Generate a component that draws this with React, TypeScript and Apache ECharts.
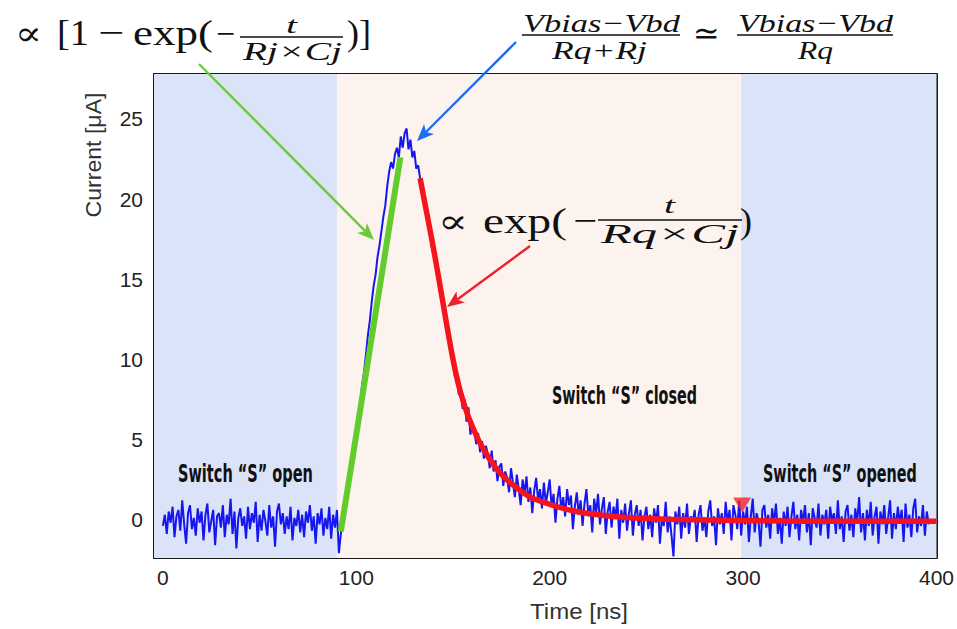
import React, { useEffect, useRef } from "react";
import * as echarts from "echarts";

// ---------- data ----------
const traceStartNs = 0;
const traceStepNs = 1;
// t = 0..91 ns, switch open
const baselineOpen = [
  -0.4, 0.3, -0.9, 0.5, -0.2, 0.8, -1.1, 0.2, 0.6, -0.7,
  1.2, -0.3, -1.5, 0.4, 0.9, -0.6, 0.1, -1.0, 0.7, -0.2,
  0.5, -1.3, 0.3, 1.0, -0.8, -0.1, 0.6, -1.6, 0.2, 0.4,
  -0.5, 0.9, -1.1, 0.3, -0.3, 1.3, -0.9, 0.5, -1.8, 0.1,
  0.7, -0.4, 0.2, -1.2, 0.8, -0.6, 0.4, -0.2, 1.1, -1.4,
  0.3, -0.7, 0.6, -0.1, -1.0, 0.9, -0.5, 0.2, -1.7, 0.5,
  1.0, -0.3, 0.4, -0.9, 0.2, -0.6, 0.8, -1.3, 0.1, -0.4,
  0.6, -0.8, 0.3, -1.1, 0.5, -0.2, 0.9, -0.7, 0.2, -1.5,
  0.4, -0.3, 0.7, -1.0, 0.1, -0.6, 0.8, -1.2, 0.3, -0.5,
  0.6, -2.1,
];
// t = 92..133 ns, rising edge and peak
const riseEdge = [
  -0.9, 0.1, 0.9, 1.6, 2.5, 3.1, 4.1, 4.7, 5.6, 6.2,
  7.3, 8.4, 9.2, 10.3, 11.5, 12.4, 13.6, 14.6, 15.3, 16.4,
  17.1, 18.0, 18.9, 19.6, 20.8, 21.7, 22.3, 21.9, 22.8, 23.2,
  22.6, 23.9, 23.2, 24.1, 24.4, 23.1, 23.7, 22.6, 23.0, 21.9,
  22.1, 21.3,
];
// t = 134..250 ns, recovery while switch closed
const decayClosed = [
  21.0, 20.2, 19.6, 19.1, 18.2, 17.0, 16.9, 15.8, 15.6, 14.2,
  14.3, 13.0, 12.9, 11.5, 11.6, 10.2, 10.1, 8.9, 9.0, 7.8,
  8.1, 6.9, 7.5, 6.1, 7.0, 5.3, 6.0, 5.6, 4.7, 5.4,
  4.2, 4.9, 3.8, 4.6, 4.1, 3.2, 4.3, 3.0, 3.7, 2.4,
  3.3, 3.5, 2.1, 3.0, 2.6, 1.7, 3.2,
  2.3, 1.4, 2.8, 1.9, 0.9, 2.5, 1.6, 2.7, 1.1, 2.0,
  0.4, 1.8, 2.6, 1.2, 1.9, 0.7, 2.3, 1.0, 1.7, 2.5,
  0.8, 1.6, -0.2, 1.3, 2.1, 0.6, 1.4, 0.2, 1.9, 0.9,
  1.5, -0.6, 0.8, 1.7, 0.3, 1.2, -0.4, 1.0, 1.9, 0.2,
  0.9, -0.8, 1.3, 0.4, 1.6, -0.3, 0.7, 1.4, -0.9, 0.5,
  1.1, -0.5, 0.8, 0.1, 1.3, -1.2, 0.6, -0.2, 1.0, -0.7,
  0.4, 1.2, -1.0, 0.3, 0.9, -0.4, 0.6, -1.3, 0.2, 0.8,
];
// t = 251..396 ns
const tailOpened = [
  -0.6, 0.3, -1.1, 0.7, -0.2, 0.9, -1.5, 0.1, -0.4, 1.1,
  -0.8, 0.2, -1.0, -2.3, 0.5, -0.3, 0.8, -1.2, 0.4, -0.5,
  1.0, -0.9, 0.2, -0.1, 0.6, -1.4, 0.3, 0.9, -0.7, 0.1,
  -1.1, 0.5, 1.2, -0.4, 0.2, -1.6, 0.7, -0.3, 0.4, -0.9,
  1.1, -0.2, 0.6, -1.3, 0.9, 0.3, -0.6, 1.2, -1.0, 0.5,
  -0.3, 0.8, -1.4, 0.2, 1.3, -0.8, 0.4, -0.1, -1.7, 0.6,
  0.9, -0.5, 0.3, -1.2, 0.7, -0.2, 1.0, -0.9, 0.1, -1.5,
  0.5, -0.4, 0.8, -1.1, 0.2, 1.1, -0.6, 0.3, -1.3, 0.6,
  -0.2, 0.9, -0.8, 0.4, -1.6, 0.7, 0.1, -0.5, 1.0, -1.0,
  0.3, -0.3, 0.6, -1.2, 0.8, -0.1, 0.4, -0.9, 1.2, -0.6,
  0.2, -1.4, 0.5, 0.9, -0.7, 0.3, -1.1, 0.7, -0.2, 1.4,
  -0.8, 0.4, -1.3, 0.6, -0.4, 1.1, -1.0, 0.2, 0.8, -1.5,
  0.5, -0.3, 0.9, -0.9, 0.1, 1.2, -1.2, 0.4, -0.6, 0.8,
  -0.2, 0.6, -1.4, 1.0, -0.5, 0.3, -1.1, 0.7, 1.3, -0.8,
  0.2, -0.4, 0.9, -1.0, 0.5, -0.3,
];

// rising-edge linear fit (green)
const riseFitT = [92, 122.8];
const riseFitI = [-0.75, 22.6];
// exponential recovery fit (red)
const decayFitT = [133, 136, 139, 142, 145, 148, 151, 154, 158, 163, 168, 173, 180, 190, 200, 212, 225, 240, 260, 290, 330, 400];
const decayFitI = [21.3, 19.4, 17.5, 15.5, 13.4, 11.3, 9.4, 7.9, 6.4, 5.0, 3.95, 3.1, 2.25, 1.4, 0.95, 0.55, 0.3, 0.12, 0.02, -0.05, -0.1, -0.1];

// switch re-opening marker
const markerT = [299.5];
const markerI = [0.9];

// switch state regions (ns)
const regionStarts = [-4.6, 90, 299];
const regionEnds = [90, 299, 400];
const regionColors = ["#dbe3f8", "#fcf3ef", "#dbe3f8"];

const xLabelValues = [0, 100, 200, 300, 400];
const xTickValues = [0, 20, 40, 60, 80, 100, 120, 140, 160, 180, 200, 220, 240, 260, 280, 300, 320, 340, 360, 380, 400];
const yLabelValues = [0, 5, 10, 15, 20, 25];

const X_MIN = -4.6;
const X_MAX = 400;
const Y_MIN = -2.4;
const Y_MAX = 27.8;

// ---------- helpers ----------
const SERIF = "'Liberation Serif', 'DejaVu Serif', serif";
const SANS = "'Liberation Sans', Arial, Helvetica, sans-serif";
const NARROW = "'Liberation Sans Narrow', 'DejaVu Sans Condensed', 'Liberation Sans', sans-serif";

let measureCtx: CanvasRenderingContext2D | null = null;
function measure(text: string, font: string): number {
  if (!measureCtx) measureCtx = document.createElement("canvas").getContext("2d");
  if (!measureCtx) return text.length * 10;
  measureCtx.font = font;
  return measureCtx.measureText(text).width || 1;
}

type TOpts = { italic?: boolean; bold?: boolean; family?: string; fill?: string; align?: string; rotation?: number };
function fitText(text: string, x: number, width: number, cy: number, size: number, o: TOpts = {}) {
  const family = o.family || SERIF;
  const font = `${o.italic ? "italic " : ""}${o.bold ? "bold " : ""}${size}px ${family}`;
  const w = measure(text, font);
  return {
    type: "text",
    x,
    y: cy,
    z: 20,
    rotation: o.rotation || 0,
    scaleX: width / w,
    style: {
      text,
      fontSize: size,
      fontFamily: family,
      fontStyle: o.italic ? "italic" : "normal",
      fontWeight: o.bold ? "bold" : "normal",
      fill: o.fill || "#111",
      align: o.align || "left",
      verticalAlign: "middle",
    },
  };
}
function hbar(x1: number, x2: number, y: number) {
  return { type: "line", z: 20, shape: { x1, y1: y, x2, y2: y }, style: { stroke: "#111", lineWidth: 1.5 } };
}
function arrow(x1: number, y1: number, x2: number, y2: number, color: string, w = 2.4, hl = 17, hw = 7) {
  const dx = x2 - x1, dy = y2 - y1;
  const L = Math.hypot(dx, dy);
  const ux = dx / L, uy = dy / L;
  const bx = x2 - ux * hl, by = y2 - uy * hl;
  const nx = x2 - ux * hl * 0.75, ny = y2 - uy * hl * 0.75;
  const px = -uy, py = ux;
  return [
    { type: "line", z: 20, shape: { x1, y1, x2: nx, y2: ny }, style: { stroke: color, lineWidth: w } },
    {
      type: "polygon",
      z: 20,
      shape: { points: [[x2, y2], [bx + px * hw, by + py * hw], [nx, ny], [bx - px * hw, by - py * hw]] },
      style: { fill: color },
    },
  ];
}

export default function App() {
  const ref = useRef<HTMLDivElement>(null);

  useEffect(() => {
    if (!ref.current) return;
    const chart = echarts.init(ref.current, undefined, { renderer: "svg" });

    const traceValues = [...baselineOpen, ...riseEdge, ...decayClosed, ...tailOpened];
    const trace = traceValues.map((v, i) => [traceStartNs + i * traceStepNs, v]);
    const riseFit = riseFitT.map((t, i) => [t, riseFitI[i]]);
    const decayFit = decayFitT.map((t, i) => [t, decayFitI[i]]);
    const marker = markerT.map((t, i) => [t, markerI[i]]);

    const regions = regionStarts.map((s, i) => [
      { xAxis: s, itemStyle: { color: regionColors[i] } },
      { xAxis: regionEnds[i] },
    ]);

    const axisLineStyle = { color: "#1a1a1a", width: 2 };
    const tickStyle = { color: "#333", width: 1.2 };

    const graphics: any[] = [
      // formula 1: rising edge
      fitText("∝", 15, 27, 34, 34),
      fitText("[1", 57, 32, 33, 35),
      fitText("−", 98, 26, 33, 34),
      fitText("exp(", 133, 80, 33, 35),
      fitText("−", 216, 19, 33, 34),
      fitText("t", 286, 11, 25, 24, { italic: true }),
      hbar(240, 343, 37),
      fitText("Rj×Cj", 243, 99, 51, 26, { italic: true }),
      fitText(")]", 347, 24, 33, 35),
      // formula 2: peak current
      fitText("Vbias−Vbd", 523, 157, 23, 26, { italic: true }),
      hbar(522, 680, 35),
      fitText("Rq+Rj", 552, 95, 50, 26, { italic: true }),
      fitText("≃", 693, 27, 33, 32),
      fitText("Vbias−Vbd", 738, 155, 23, 26, { italic: true }),
      hbar(737, 893, 35),
      fitText("Rq", 798, 35, 50, 26, { italic: true }),
      // formula 3: recovery
      fitText("∝", 438, 30, 222, 34),
      fitText("exp(", 483, 84, 221, 36),
      fitText("−", 573, 24, 221, 34),
      fitText("t", 664, 11, 205, 24, { italic: true }),
      hbar(598, 742, 220),
      fitText("Rq×Cj", 601, 138, 234, 27, { italic: true }),
      fitText(")", 740, 12, 221, 36),
      // arrows
      ...arrow(199, 64, 374, 240, "#6cc93c"),
      ...arrow(516, 42, 417, 141, "#1e6ef5"),
      ...arrow(530, 246, 447, 307, "#f0202a"),
      // region labels
      fitText("Switch “S” open", 178, 135, 474, 24, { bold: true, family: NARROW }),
      fitText("Switch “S” closed", 552, 145, 396, 24, { bold: true, family: NARROW }),
      fitText("Switch “S” opened", 763, 154, 474, 24, { bold: true, family: NARROW }),
      // axis titles
      fitText("Time [ns]", 579, 98, 611, 22, { family: SANS, fill: "#333", align: "center" }),
      fitText("Current [μA]", 94, 125, 155, 22, { family: SANS, fill: "#333", align: "center", rotation: Math.PI / 2 }),
    ];

    chart.setOption({
      animation: false,
      backgroundColor: "#ffffff",
      grid: { left: 154, top: 74, width: 785, height: 484, containLabel: false },
      xAxis: [
        {
          type: "value",
          min: X_MIN,
          max: X_MAX,
          position: "bottom",
          axisLine: { show: true, onZero: false, lineStyle: axisLineStyle },
          axisTick: { show: true, inside: true, length: 4, customValues: xTickValues, lineStyle: tickStyle },
          axisLabel: { show: true, customValues: xLabelValues, margin: 9, fontSize: 21, color: "#222", fontFamily: SANS },
          splitLine: { show: false },
        },
        {
          type: "value",
          min: X_MIN,
          max: X_MAX,
          position: "top",
          axisLine: { show: true, onZero: false, lineStyle: axisLineStyle },
          axisTick: { show: true, inside: true, length: 4, customValues: xTickValues, lineStyle: tickStyle },
          axisLabel: { show: false },
          splitLine: { show: false },
        },
      ],
      yAxis: [
        {
          type: "value",
          min: Y_MIN,
          max: Y_MAX,
          position: "left",
          axisLine: { show: true, onZero: false, lineStyle: axisLineStyle },
          axisTick: { show: true, inside: true, length: 5, customValues: yLabelValues, lineStyle: tickStyle },
          axisLabel: { show: true, customValues: yLabelValues, margin: 11, fontSize: 21, color: "#222", fontFamily: SANS },
          splitLine: { show: false },
        },
        {
          type: "value",
          min: Y_MIN,
          max: Y_MAX,
          position: "right",
          axisLine: { show: true, onZero: false, lineStyle: axisLineStyle },
          axisTick: { show: true, inside: true, length: 5, customValues: yLabelValues, lineStyle: tickStyle },
          axisLabel: { show: false },
          splitLine: { show: false },
        },
      ],
      series: [
        {
          name: "regions",
          type: "line",
          data: [],
          silent: true,
          z: 0,
          markArea: { silent: true, data: regions },
        },
        {
          name: "Current",
          type: "line",
          data: trace,
          showSymbol: false,
          symbol: "none",
          z: 3,
          lineStyle: { color: "#1616ee", width: 2 },
        },
        {
          name: "Rise fit",
          type: "line",
          data: riseFit,
          showSymbol: false,
          symbol: "none",
          z: 4,
          lineStyle: { color: "#62cc2c", width: 6 },
        },
        {
          name: "Recovery fit",
          type: "line",
          data: decayFit,
          smooth: 0.3,
          showSymbol: false,
          symbol: "none",
          z: 4,
          lineStyle: { color: "#f5141e", width: 5.5 },
        },
        {
          name: "Switch reopening",
          type: "scatter",
          data: marker,
          symbol: "triangle",
          symbolRotate: 180,
          symbolSize: [18, 15],
          z: 5,
          itemStyle: { color: "#f2222a" },
        },
      ],
      graphic: graphics,
    });

    return () => chart.dispose();
  }, []);

  return <div ref={ref} style={{ position: "fixed", left: 0, top: 0, width: 957, height: 629, background: "#fff" }} />;
}
